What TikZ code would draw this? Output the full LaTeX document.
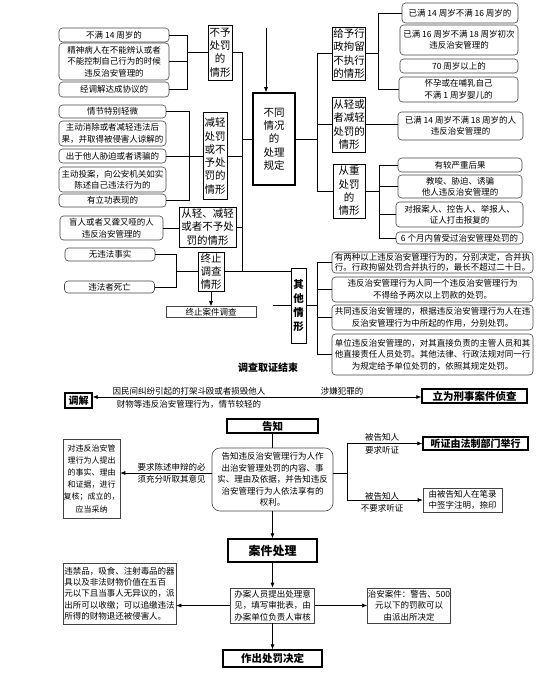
\documentclass[tikz,border=0pt]{standalone}
\usepackage{fontspec}
\newfontfamily\cjk{Noto Sans CJK SC}
\usetikzlibrary{arrows.meta,positioning,calc}
\definecolor{boxline}{HTML}{444444}

\begin{document}
\begin{tikzpicture}[x=1pt,y=-1pt,
  font=\cjk\fontsize{8.5}{11.5}\selectfont,
  every node/.style={inner sep=0.5pt},
  rbox/.style={draw=boxline, rounded corners=3.5pt, align=center, line width=0.6pt},
  sbox/.style={draw=boxline, align=center, line width=0.6pt},
  kind/.style={draw, align=center, line width=0.8pt, font=\cjk\fontsize{10.5}{13.3}\selectfont},
  head/.style={draw, align=center, line width=1.4pt, font=\cjk\bfseries\fontsize{10.5}{12}\selectfont},
  lbl/.style={align=center},
  arr/.style={-{Latex[length=5pt,width=4pt]}, line width=0.6pt},
  conn/.style={line width=0.6pt}
]
\useasboundingbox (0,0) rectangle (554,694);

\node[rbox, minimum width=110, minimum height=14] (a1) at (114,35) {不满 14 周岁的};
\node[rbox, minimum width=110, minimum height=37] (a2) at (114,61.5) {精神病人在不能辨认或者\\不能控制自己行为的时候\\违反治安管理的};
\node[rbox, minimum width=110, minimum height=15] (a3) at (114,89.5) {经调解达成协议的};
\node[kind, minimum width=24, minimum height=55] (p1) at (220,52.5) {不予\\处罚\\的\\情形};

\node[rbox, minimum width=107, minimum height=13] (b1) at (112.5,111.5) {情节特别轻微};
\node[rbox, minimum width=107, minimum height=25] (b2) at (112.5,133.5) {主动消除或者减轻违法后\\果，并取得被侵害人谅解的};
\node[rbox, minimum width=107, minimum height=14] (b3) at (112.5,156) {出于他人胁迫或者诱骗的};
\node[rbox, minimum width=107, minimum height=25] (b4) at (112.5,179.5) {主动投案，向公安机关如实\\陈述自己违法行为的};
\node[rbox, minimum width=107, minimum height=13] (b5) at (112.5,200.5) {有立功表现的};
\node[kind, minimum width=24, minimum height=87] (p2) at (215,156) {减轻\\处罚\\或不\\予处\\罚的\\情形};

\node[rbox, minimum width=103, minimum height=24] (c1) at (111.5,228) {盲人或者又聋又哑的人\\违反治安管理的};
\node[kind, minimum width=57, minimum height=40] (p3) at (207.5,227) {从轻、减轻\\或者不予处\\罚的情形};

\node[rbox, minimum width=90, minimum height=13] (d1) at (110,254.5) {无违法事实};
\node[rbox, minimum width=90, minimum height=12] (d2) at (109.5,287) {违法者死亡};
\node[kind, minimum width=26, minimum height=39] (p4) at (211,271.5) {终止\\调查\\情形};
\node[sbox, minimum width=90, minimum height=11] (e1) at (211,312) {终止案件调查};

\node[kind, line width=1.6pt, minimum width=42, minimum height=92] (m) at (274,139) {不同\\情况\\的\\处理\\规定};

\node[kind, minimum width=32, minimum height=53] (q1) at (349,53.5) {给予行\\政拘留\\不执行\\的情形};
\node[kind, minimum width=32, minimum height=55] (q2) at (349,124.5) {从轻或\\者减轻\\处罚的\\情形};
\node[kind, minimum width=32, minimum height=54] (q3) at (349,191) {从重\\处罚\\的\\情形};

\node[rbox, minimum width=116, minimum height=20] (r1) at (460,13) {已满 14 周岁不满 16 周岁的};
\node[rbox, minimum width=118, minimum height=30] (r2) at (459,40) {已满 16 周岁不满 18 周岁初次\\违反治安管理的};
\node[rbox, minimum width=118, minimum height=14] (r3) at (459,66) {70 周岁以上的};
\node[rbox, minimum width=119, minimum height=25] (r4) at (458.5,89.5) {怀孕或在哺乳自己\\不满 1 周岁婴儿的};
\node[rbox, minimum width=125, minimum height=28] (r5) at (460.5,126) {已满 14 周岁不满 18 周岁的人\\违反治安管理的};

\node[rbox, minimum width=124, minimum height=14] (s1) at (460,165) {有较严重后果};
\node[rbox, minimum width=124, minimum height=23] (s2) at (460,186.5) {教唆、胁迫、诱骗\\他人违反治安管理的};
\node[rbox, minimum width=127, minimum height=25] (s3) at (459.5,214.5) {对报案人、控告人、举报人、\\证人打击报复的};
\node[rbox, minimum width=127, minimum height=12] (s4) at (459.5,238) {6 个月内曾受过治安管理处罚的};

\node[kind, font=\cjk\bfseries\fontsize{10.5}{14}\selectfont, minimum width=15, minimum height=75] (o) at (298.5,305.5) {其\\他\\情\\形};
\node[rbox, font=\cjk\fontsize{8.5}{10}\selectfont, minimum width=201, minimum height=21] (t1) at (432.5,262.5) {有两种以上违反治安管理行为的，分别决定，合并执\\行。行政拘留处罚合并执行的，最长不超过二十日。};
\node[rbox, minimum width=201, minimum height=25] (t2) at (432.5,289.5) {违反治安管理行为人同一个违反治安管理行为\\不得给予两次以上罚款的处罚。};
\node[rbox, minimum width=201, minimum height=25] (t3) at (432.5,317.5) {共同违反治安管理的，根据违反治安管理行为人在违\\反治安管理行为中所起的作用，分别处罚。};
\node[rbox, minimum width=201, minimum height=41] (t4) at (432.5,354.5) {单位违反治安管理的，对其直接负责的主管人员和其\\他直接责任人员处罚。其他法律、行政法规对同一行\\为规定给予单位处罚的，依照其规定处罚。};

\node[font=\cjk\bfseries\fontsize{10}{12}\selectfont] (done) at (268,368) {调查取证结束};

\node[head, font=\cjk\bfseries\fontsize{10}{12}\selectfont, minimum width=27, minimum height=15] (u1) at (78.5,400.5) {调解};
\node[head, minimum width=105, minimum height=14] (u2) at (474.5,396) {立为刑事案件侦查};
\coordinate (fork) at (268,397);
\node[lbl] (why1) at (189,391) {因民间纠纷引起的打架斗殴或者损毁他人};
\node[lbl] (why2) at (189,404) {财物等违反治安管理行为，情节较轻的};
\node[lbl] (crime) at (342,391) {涉嫌犯罪的};

\node[head, minimum width=91, minimum height=14] (v1) at (272.5,426) {告知};
\node[rbox, rounded corners=8pt, minimum width=121, minimum height=63] (v2) at (272.5,479.5) {告知违反治安管理行为人作\\出治安管理处罚的内容、事\\实、理由及依据，并告知违反\\治安管理行为人依法享有的\\权利。};
\node[sbox, font=\cjk\fontsize{8}{12.2}\selectfont, minimum width=57, minimum height=79] (v3) at (91.5,478.5) {对违反治安管\\理行为人提出\\的事实、理由\\和证据，进行\\复核；成立的，\\应当采纳};
\node[lbl] (ask1) at (171.5,467) {要求陈述申辩的必};
\node[lbl] (ask2) at (171.5,479) {须充分听取其意见};

\node[head, font=\cjk\bfseries\fontsize{10}{12}\selectfont, minimum width=105, minimum height=13] (w1) at (475.5,443.5) {听证由法制部门举行};
\node[sbox, minimum width=79, minimum height=24] (w2) at (462.5,500) {由被告知人在笔录\\中签字注明，捺印};
\node[lbl] (hear1) at (382,437) {被告知人};
\node[lbl] (hear2) at (382,450) {要求听证};
\node[lbl] (nohear1) at (382,496) {被告知人};
\node[lbl] (nohear2) at (382,508) {不要求听证};

\node[head, font=\cjk\bfseries\fontsize{12}{14}\selectfont, minimum width=89, minimum height=23] (x1) at (272.5,550.5) {案件处理};
\node[sbox, minimum width=84, minimum height=35] (x2) at (272.5,605.5) {办案人员提出处理意\\见，填写审批表，由\\办案单位负责人审核};
\node[sbox, align=left, font=\cjk\fontsize{8.5}{11.3}\selectfont, minimum width=113, minimum height=61] (x3) at (119.5,593.5) {违禁品，吸食、注射毒品的器\\具以及非法财物价值在五百\\元以下且当事人无异议的，派\\出所可以收缴；可以追缴违法\\所得的财物退还被侵害人。};
\node[sbox, minimum width=80, minimum height=35] (x4) at (409,605.5) {治安案件：警告、500\\元以下的罚款可以\\由派出所决定};
\node[head, minimum width=99, minimum height=17] (x5) at (272.5,658.5) {作出处罚决定};

\coordinate (ja) at (187,0);
\coordinate (jb) at (189,0);
\coordinate (jd) at (176,0);
\coordinate (lt) at (242,0);
\coordinate (rt) at (317,0);
\coordinate (jr) at (378,0);
\coordinate (js) at (379,0);
\coordinate (start) at (266,28);
\coordinate (stub) at (273,305.5);

\draw[arr] (start) -- (start |- m.north);

\draw[conn] (a1.east) -| (ja |- a3.east) -- (a3.east);
\draw[conn] (a2.east) -- (a2.east -| ja);
\draw[conn] (p1.west) -- (p1.west -| ja);
\draw[conn] (b1.east) -| (jb |- b5.east) -- (b5.east);
\draw[conn] (b3.east) -- (p2.west);
\draw[conn] (c1.east) -- (c1.east -| p3.west);
\draw[conn] (d1.east) -| (jd |- d2.east) -- (d2.east);
\draw[conn] (p4.west) -- (p4.west -| jd);
\draw[arr] (p4) -- (e1);

\draw[conn] (p1.east) -| (lt |- p4.east);
\draw[conn] (p2.east) -- (p2.east -| lt);
\draw[conn] (p3.east) -- (p3.east -| lt);
\draw[conn] (m.west) -- (m.west -| lt);
\draw[conn] (p4.east) -- (p4.east -| o.west);
\draw[conn] (stub) -- (o.west);

\draw[conn] (m.east) -- (m.east -| rt);
\draw[conn] (q1.west) -| (rt |- q3.west) -- (q3.west);
\draw[conn] (q2.west) -- (q2.west -| rt);
\draw[conn] (q1.east) -- (q1.east -| jr);
\draw[conn] (r1.west) -| (jr |- r4.west) -- (r4.west);
\draw[conn] (q2.east) -- (q2.east -| r5.west);
\draw[conn] (q3.east) -- (q3.east -| js);
\draw[conn] (s1.west) -| (js |- s4.west) -- (s4.west);
\foreach \n in {s2,s3} \draw[conn] (\n.west) -- (\n.west -| js);

\draw[conn] (o.east) -- (o.east -| rt);
\draw[conn] (t1.west) -| (rt |- t4.west) -- (t4.west);
\foreach \n in {t2,t3} \draw[conn] (\n.west) -- (\n.west -| rt);

\draw[arr] (fork) -- (fork -| u1.east);
\draw[arr] (fork) -- (fork -| u2.west);

\draw[conn] (v1) -- (v2);
\coordinate (v2l) at ([yshift=6.5pt]v2.west);
\coordinate (v2r) at ([yshift=6.5pt]v2.east);
\coordinate (hub) at (347,473);
\draw[arr] (v2l) -- (v2l -| v3.east);
\draw[conn] (v2r) -- (hub);
\draw[arr] (hub) |- (w1.west);
\draw[arr] (hub) |- (w2.west);

\draw[arr] (v2) -- (x1);
\draw[arr] (x1) -- (x2);
\draw[arr] (x2.west) -- (x2.west -| x3.east);
\draw[arr] (x2.east) -- (x2.east -| x4.west);
\draw[arr] (x2) -- (x5);
\end{tikzpicture}
\end{document}
